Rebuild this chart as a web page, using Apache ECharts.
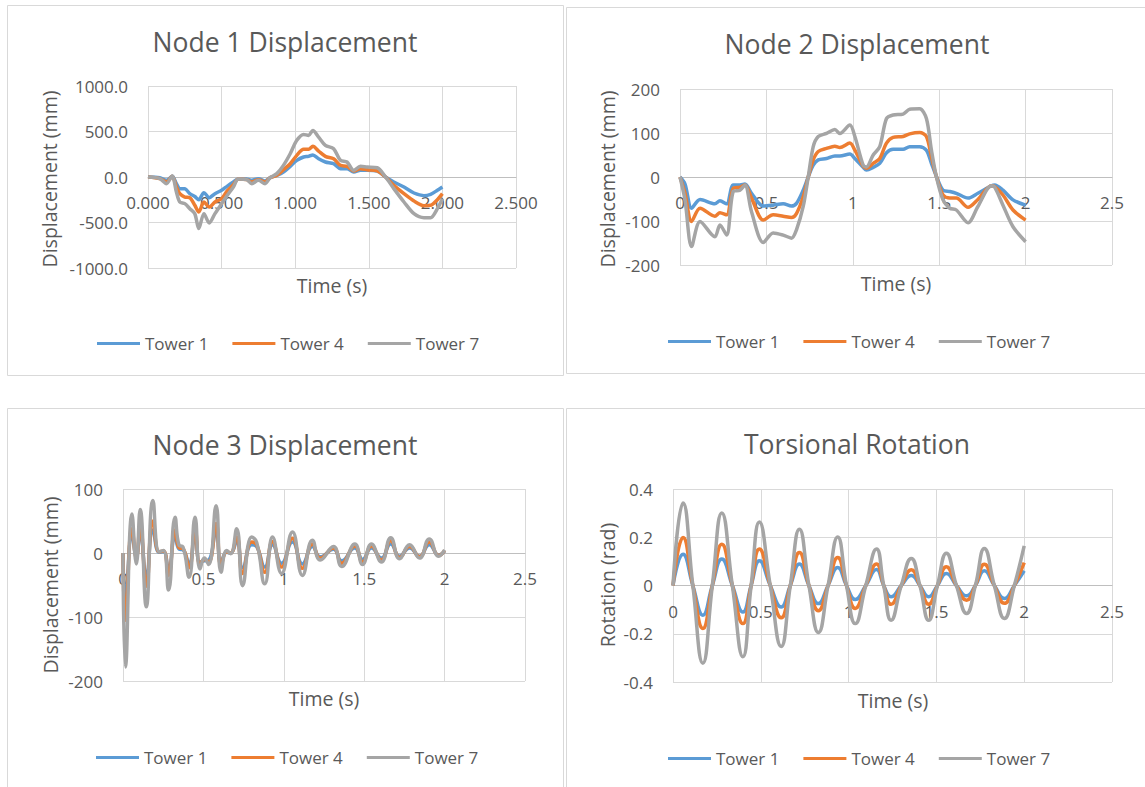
<!DOCTYPE html>
<html>
<head>
<meta charset="utf-8">
<title>Tower response</title>
<script src="https://cdn.jsdelivr.net/npm/echarts@6/dist/echarts.min.js"></script>
<style>
  html, body { margin: 0; padding: 0; background: #ffffff; }
  #chart { width: 1145px; height: 787px; }
</style>
</head>
<body>
<div id="chart"></div>
<script>
// ---- Series names ----
const towerNames = ['Tower 1', 'Tower 4', 'Tower 7'];

// ---- Node 1 displacement (mm) ----
const node1Time = [0, 0.08, 0.125, 0.164, 0.193, 0.216, 0.25, 0.284, 0.318, 0.345, 0.38, 0.416, 0.455, 0.5, 0.539, 0.58, 0.614, 0.67, 0.705, 0.75, 0.795, 0.83, 0.875, 0.92, 0.966, 1.011, 1.057, 1.091, 1.12, 1.159, 1.205, 1.261, 1.307, 1.352, 1.398, 1.443, 1.489, 1.557, 1.614, 1.67, 1.739, 1.807, 1.875, 1.92, 1.966, 2.0];
const node1Tower1 = [0, -7, -37, 7, -73, -128, -130, -183, -215, -249, -172, -227, -183, -146, -100, -55, -22, -22, -37, -18, -44, -7, 18, 55, 117, 183, 220, 227, 242, 201, 165, 146, 92, 92, 55, 73, 73, 66, 0, -55, -110, -176, -205, -190, -146, -110];
const node1Tower4 = [0, -18, -55, 7, -110, -183, -220, -227, -311, -384, -275, -330, -275, -238, -150, -85, -22, -29, -55, -29, -55, -7, 18, 80, 146, 238, 304, 304, 337, 285, 227, 201, 128, 117, 66, 92, 80, 66, 0, -92, -183, -264, -315, -311, -249, -183];
const node1Tower7 = [0, -18, -73, 11, -165, -275, -293, -348, -403, -567, -403, -505, -403, -293, -201, -110, -22, -29, -73, -37, -73, -7, 37, 128, 256, 403, 468, 457, 512, 439, 348, 311, 183, 165, 73, 117, 110, 102, 0, -128, -275, -403, -447, -447, -348, -238];

// ---- Node 2 displacement (mm) ----
const node2Time = [0, 0.029, 0.067, 0.116, 0.202, 0.231, 0.27, 0.308, 0.347, 0.376, 0.414, 0.482, 0.539, 0.597, 0.645, 0.674, 0.713, 0.742, 0.771, 0.8, 0.848, 0.896, 0.925, 0.983, 1.012, 1.06, 1.079, 1.118, 1.156, 1.195, 1.233, 1.291, 1.329, 1.387, 1.426, 1.455, 1.484, 1.522, 1.561, 1.599, 1.667, 1.724, 1.802, 1.821, 1.869, 1.927, 2.0];
const node2Tower1 = [0, -16, -71, -51, -61, -54, -61, -18, -18, -16, -37, -66, -64, -61, -66, -60, -30, 0, 27, 39, 42, 48, 48, 52, 42, 22, 16, 22, 31, 55, 63, 63, 69, 69, 61, 31, 1, -30, -33, -37, -48, -37, -20, -18, -30, -52, -64];
const node2Tower4 = [0, -37, -101, -71, -89, -81, -86, -26, -23, -18, -48, -98, -86, -89, -92, -83, -45, 0, 39, 58, 65, 70, 67, 77, 61, 25, 20, 31, 42, 77, 90, 92, 98, 101, 92, 46, 1, -41, -48, -48, -69, -51, -20, -22, -41, -75, -98];
const node2Tower7 = [0, -52, -158, -101, -136, -109, -132, -33, -30, -18, -79, -149, -127, -132, -139, -120, -67, 0, 69, 92, 99, 108, 99, 118, 92, 27, 23, 50, 69, 133, 141, 143, 154, 155, 133, 61, 0, -52, -71, -75, -104, -67, -20, -23, -64, -113, -147];

// ---- Node 3 displacement (mm) ----
const node3Time = [0, 0.015, 0.056, 0.083, 0.107, 0.145, 0.186, 0.225, 0.252, 0.283, 0.324, 0.349, 0.372, 0.411, 0.448, 0.479, 0.506, 0.533, 0.579, 0.61, 0.645, 0.669, 0.707, 0.744, 0.8, 0.831, 0.882, 0.93, 0.986, 1.054, 1.116, 1.178, 1.227, 1.309, 1.36, 1.442, 1.49, 1.545, 1.607, 1.665, 1.72, 1.782, 1.844, 1.905, 1.963, 2.0];
const node3Tower1 = [0, -75, 28, -5, 30, -38, 36, 1, 2, -25, 26, 6, 5, -16, 26, -14, -12, -11, 33, -14, 1, 0, 18, -23, 13, 10, -22, 13, -16, 17, -17, 10, -6, 6, -12, 8, -10, 8, -8, 14, -5, 8, -5, 13, -3, 3];
const node3Tower4 = [0, -105, 38, -8, 42, -52, 50, 2, 3, -35, 36, 8, 7, -23, 36, -18, -10, -14, 46, -19, 2, 0, 25, -32, 17, 13, -30, 18, -22, 23, -24, 14, -8, 8, -16, 11, -14, 11, -11, 19, -7, 10, -6, 17, -4, 4];
const node3Tower7 = [0, -178, 61, -17, 68, -84, 82, 2, 4, -58, 56, 12, 10, -38, 56, -25, -8, -18, 74, -30, 4, -1, 38, -51, 25, 17, -48, 25, -32, 33, -35, 20, -11, 10, -21, 14, -18, 14, -14, 24, -9, 13, -8, 22, -5, 5];

// ---- Torsional rotation (rad) ----
const rotTime = [0, 0.057, 0.113, 0.17, 0.224, 0.278, 0.338, 0.398, 0.445, 0.492, 0.554, 0.616, 0.668, 0.72, 0.774, 0.828, 0.883, 0.938, 0.988, 1.038, 1.098, 1.159, 1.2, 1.242, 1.3, 1.357, 1.406, 1.456, 1.506, 1.557, 1.614, 1.672, 1.722, 1.773, 1.83, 1.887, 1.944, 2.0];
const rotTower1 = [0, 0.13, 0, -0.123, 0, 0.11, 0, -0.11, 0, 0.103, 0, -0.089, 0, 0.089, 0, -0.075, 0, 0.075, 0, -0.058, 0, 0.066, 0, -0.047, 0, 0.041, 0, -0.047, 0, 0.05, 0, -0.043, 0, 0.061, 0, -0.054, 0, 0.061];
const rotTower4 = [0, 0.199, 0, -0.178, 0, 0.171, 0, -0.158, 0, 0.151, 0, -0.134, 0, 0.137, 0, -0.105, 0, 0.116, 0, -0.095, 0, 0.089, 0, -0.078, 0, 0.065, 0, -0.078, 0, 0.078, 0, -0.061, 0, 0.088, 0, -0.074, 0, 0.095];
const rotTower7 = [0, 0.342, 0, -0.322, 0, 0.301, 0, -0.295, 0, 0.263, 0, -0.253, 0, 0.233, 0, -0.195, 0, 0.201, 0, -0.158, 0, 0.151, 0, -0.144, 0, 0.112, 0, -0.144, 0, 0.134, 0, -0.116, 0, 0.153, 0, -0.137, 0, 0.164];

// ---- Axis ranges ----
const timeAxis = { min: 0, max: 2.5, interval: 0.5 };
const node1Axis = { min: -1000, max: 1000, interval: 500 };
const node2Axis = { min: -200, max: 200, interval: 100 };
const node3Axis = { min: -200, max: 100, interval: 100 };
const rotAxis = { min: -0.4, max: 0.4, interval: 0.2 };

const colors = ['#5B9BD5', '#ED7D31', '#A5A5A5'];
const textColor = '#595959';
const gridColor = '#d9d9d9';
const fontFamily = '"Open Sans", "DejaVu Sans", sans-serif';

const panels = [
  { title: 'Node 1 Displacement', yName: 'Displacement (mm)', time: node1Time,
    values: [node1Tower1, node1Tower4, node1Tower7], yRange: node1Axis,
    xFmt: v => v.toFixed(3), yFmt: v => v.toFixed(1), smooth: 0.3,
    grid: { left: 148, top: 86, width: 368, height: 182 },
    titlePos: [285, 42], xNamePos: [332, 285], yNamePos: [49, 179], legendTop: 335 },
  { title: 'Node 2 Displacement', yName: 'Displacement (mm)', time: node2Time,
    values: [node2Tower1, node2Tower4, node2Tower7], yRange: node2Axis,
    xFmt: v => String(+v.toFixed(1)), yFmt: v => String(Math.round(v)), smooth: 0.3,
    grid: { left: 680, top: 89, width: 432, height: 176 },
    titlePos: [857, 44], xNamePos: [896, 283], yNamePos: [607, 179], legendTop: 333 },
  { title: 'Node 3 Displacement', yName: 'Displacement (mm)', time: node3Time,
    values: [node3Tower1, node3Tower4, node3Tower7], yRange: node3Axis,
    xFmt: v => String(+v.toFixed(1)), yFmt: v => String(Math.round(v)), smooth: 0.5,
    grid: { left: 123, top: 489, width: 402, height: 192 },
    titlePos: [285, 445], xNamePos: [324, 698], yNamePos: [50, 585], legendTop: 749 },
  { title: 'Torsional Rotation', yName: 'Rotation (rad)', time: rotTime,
    values: [rotTower1, rotTower4, rotTower7], yRange: rotAxis,
    xFmt: v => String(+v.toFixed(1)), yFmt: v => String(+v.toFixed(1)), smooth: 0.5,
    grid: { left: 673, top: 489, width: 439, height: 193 },
    titlePos: [857, 444], xNamePos: [893, 700], yNamePos: [607, 585], legendTop: 750 }
];
const legendLeft = [97, 668, 96, 668];

const grids = [], xAxes = [], yAxes = [], series = [], legends = [], graphics = [];

// Panel frames
[[7.5, 5.5, 556, 370], [566.5, 7.5, 600, 366], [7.5, 408.5, 556, 400], [566.5, 408.5, 600, 400]]
  .forEach(([x, y, w, h]) => graphics.push({
    type: 'rect', z: -10, shape: { x, y, width: w, height: h },
    style: { fill: 'none', stroke: gridColor, lineWidth: 1 }
  }));

function addText(text, pos, size, rotation) {
  graphics.push({
    type: 'text', x: pos[0], y: pos[1], rotation: rotation || 0,
    style: {
      text, fill: textColor, font: size + 'px ' + fontFamily,
      align: 'center', verticalAlign: 'middle',
      textAlign: 'center', textVerticalAlign: 'middle'
    }
  });
}

panels.forEach((p, i) => {
  grids.push(Object.assign({ containLabel: false }, p.grid));
  // The time axis sits on the zero line of the value axis: shift it up from the grid bottom.
  const zeroShift = p.grid.height * (0 - p.yRange.min) / (p.yRange.max - p.yRange.min);
  xAxes.push({
    type: 'value', gridIndex: i, position: 'bottom', offset: -zeroShift,
    min: timeAxis.min, max: timeAxis.max, interval: timeAxis.interval,
    axisLine: { onZero: false, lineStyle: { color: '#bfbfbf', width: 1 } },
    axisTick: { show: false },
    axisLabel: { color: textColor, fontSize: 17, fontFamily, margin: 17, formatter: p.xFmt, showMinLabel: true, showMaxLabel: true },
    splitLine: { show: true, lineStyle: { color: gridColor, width: 1 } }
  });
  yAxes.push({
    type: 'value', gridIndex: i, min: p.yRange.min, max: p.yRange.max, interval: p.yRange.interval,
    axisLine: { show: false, onZero: false }, axisTick: { show: false },
    axisLabel: { color: textColor, fontSize: 17, fontFamily, margin: 20, formatter: p.yFmt },
    splitLine: { show: true, lineStyle: { color: gridColor, width: 1 } }
  });
  towerNames.forEach((name, k) => {
    series.push({
      type: 'line', name, xAxisIndex: i, yAxisIndex: i,
      data: p.time.map((t, j) => [t, p.values[k][j]]),
      showSymbol: false, symbol: 'none', smooth: p.smooth,
      lineStyle: { color: colors[k], width: 3.5 },
      itemStyle: { color: colors[k] },
      z: 2 + k
    });
  });
  legends.push({
    left: legendLeft[i], top: p.legendTop, padding: 0, data: towerNames,
    icon: 'rect', itemWidth: 43, itemHeight: 3, itemGap: 24,
    textStyle: { color: textColor, fontSize: 17, fontFamily },
    selectedMode: false
  });
  addText(p.title, p.titlePos, 26.5);
  addText('Time (s)', p.xNamePos, 19.5);
  addText(p.yName, p.yNamePos, 19.5, Math.PI / 2);
});

const chart = echarts.init(document.getElementById('chart'), null, { renderer: 'svg' });
chart.setOption({
  backgroundColor: '#ffffff',
  animation: false,
  color: colors,
  grid: grids,
  xAxis: xAxes,
  yAxis: yAxes,
  legend: legends,
  series,
  graphic: graphics
});
</script>
</body>
</html>
